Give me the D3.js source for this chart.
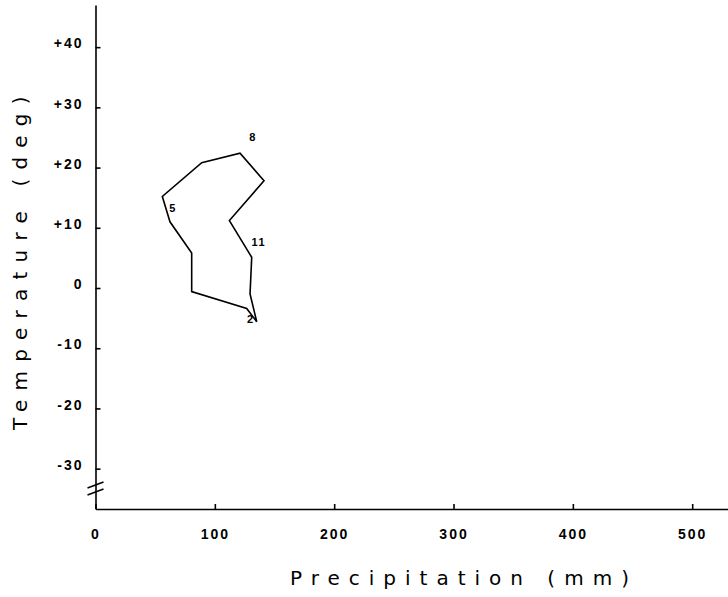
<!DOCTYPE html>
<html>
<head>
<meta charset="utf-8">
<script src="https://cdn.jsdelivr.net/npm/d3@7"></script>
<style>
  body { margin: 0; background: #fff; }
  svg { display: block; }
</style>
</head>
<body>
<svg id="chart" width="728" height="597"></svg>
<script>
// Monthly climograph: mean precipitation (mm) against mean temperature (deg)
const months = [1, 2, 3, 4, 5, 6, 7, 8, 9, 10, 11, 12];
const precipitation = [135.1, 126.7, 80.6, 80.6, 62.4, 56.0, 89.0, 121.1, 141.2, 112.2, 130.9, 129.5];
const temperature = [-5.6, -3.4, -0.6, 5.8, 11.0, 15.2, 20.8, 22.4, 17.8, 11.2, 5.1, -1.0];
const labelledMonths = [2, 5, 8, 11];
const xTicks = [0, 100, 200, 300, 400, 500];
const yTicks = [-30, -20, -10, 0, 10, 20, 30, 40];

const svg = d3.select("#chart");

const x = d3.scaleLinear().domain([0, 530]).range([95.5, 728]);
const y = d3.scaleLinear().domain([-36.7, 47]).range([509, 5]);

const tickFont = "'Liberation Sans', Arial, sans-serif";
const titleFont = "'DejaVu Sans', sans-serif";

// Y axis: ticks point inward
const yAxis = d3.axisLeft(y)
  .tickValues(yTicks)
  .tickSizeInner(-5)
  .tickSizeOuter(0)
  .tickPadding(12)
  .tickFormat(d => d > 0 ? "+" + d : String(d));

const gy = svg.append("g")
  .attr("transform", `translate(${x(0)},0)`)
  .call(yAxis);

// X axis: ticks point inward
const xAxis = d3.axisBottom(x)
  .tickValues(xTicks)
  .tickSizeInner(-5)
  .tickSizeOuter(0)
  .tickPadding(20)
  .tickFormat(d => String(d));

const gx = svg.append("g")
  .attr("transform", `translate(0,${y.range()[0]})`)
  .call(xAxis);

[gx, gy].forEach(g => {
  g.select(".domain").attr("stroke", "#000").attr("stroke-width", 1.6);
  g.selectAll(".tick line").attr("stroke", "#000").attr("stroke-width", 1.6);
  g.selectAll(".tick text")
    .attr("fill", "#000")
    .style("font-family", tickFont)
    .style("font-size", "14px")
    .style("font-weight", "bold")
    .style("letter-spacing", "2px");
});
gy.selectAll(".tick text").attr("dy", "0.05em");

// Axis break marks on the temperature axis
const breakY = y(-33.3);
[-3.5, 3.5].forEach(off => {
  svg.append("line")
    .attr("x1", x(0) - 8).attr("y1", breakY + off + 3)
    .attr("x2", x(0) + 8).attr("y2", breakY + off - 3)
    .attr("stroke", "#000").attr("stroke-width", 1.6);
});

// Climograph polygon (closed through the year)
const pts = months.map((m, i) => ({ m, p: precipitation[i], t: temperature[i] }));
const line = d3.line()
  .x(d => x(d.p))
  .y(d => y(d.t))
  .curve(d3.curveLinearClosed);

svg.append("path")
  .datum(pts)
  .attr("d", line)
  .attr("fill", "none")
  .attr("stroke", "#000")
  .attr("stroke-width", 1.6)
  .attr("stroke-linejoin", "miter");

// Month labels
const labelOffset = { 2: [4, 11], 5: [3, -14], 8: [13, -16], 11: [7, -15] };
svg.append("g")
  .selectAll("text")
  .data(pts.filter(d => labelledMonths.includes(d.m)))
  .join("text")
  .attr("x", d => x(d.p) + labelOffset[d.m][0])
  .attr("y", d => y(d.t) + labelOffset[d.m][1])
  .attr("text-anchor", "middle")
  .attr("dominant-baseline", "central")
  .style("font-family", tickFont)
  .style("font-size", "11px")
  .style("font-weight", "bold")
  .style("letter-spacing", "1.5px")
  .text(d => d.m);

// Axis titles
svg.append("text")
  .attr("x", 290)
  .attr("y", 585)
  .style("font-family", titleFont)
  .style("font-size", "20px")
  .style("letter-spacing", "9px")
  .attr("fill", "#000")
  .text("Precipitation (mm)");

svg.append("text")
  .attr("transform", "translate(27,430) rotate(-90)")
  .style("font-family", titleFont)
  .style("font-size", "20px")
  .style("letter-spacing", "9.2px")
  .attr("fill", "#000")
  .text("Temperature (deg)");
</script>
</body>
</html>
